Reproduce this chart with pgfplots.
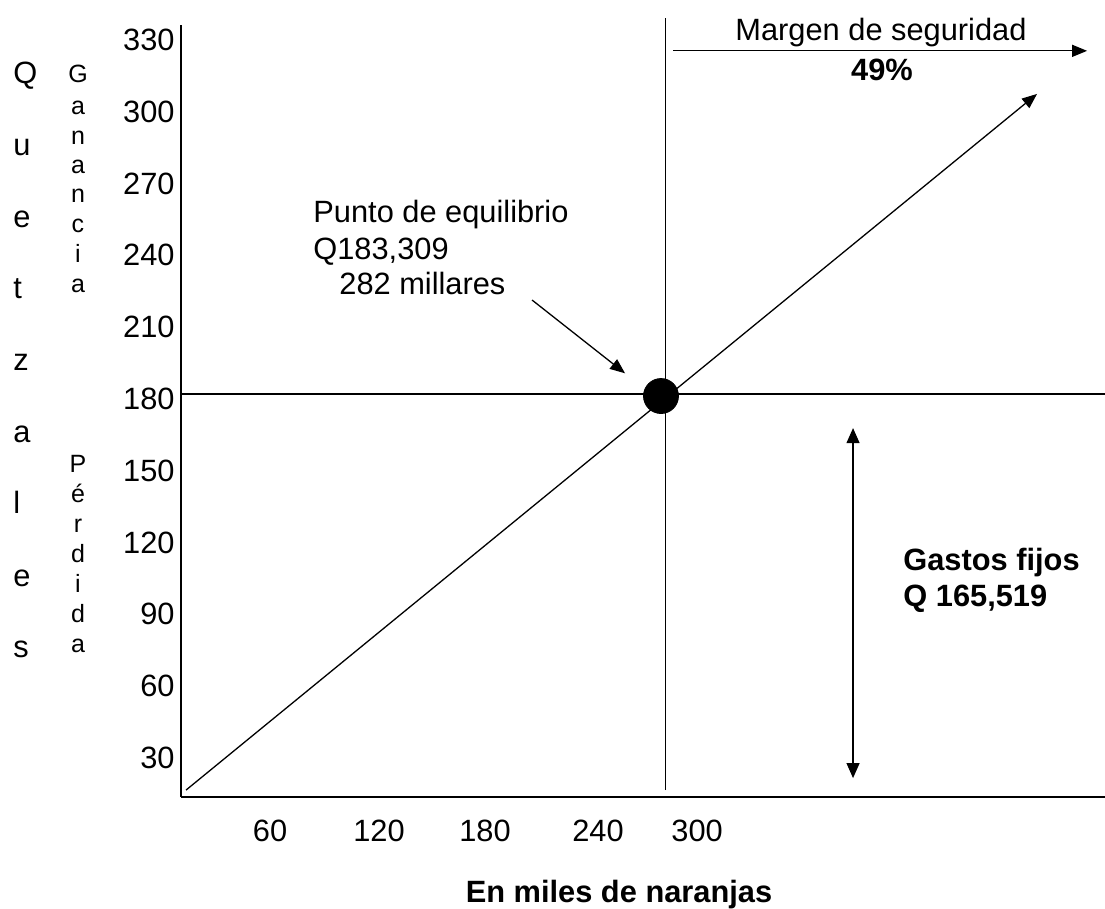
\documentclass[border=0pt]{standalone}
\usepackage{fontspec}
\setmainfont{Liberation Sans}
\usepackage{pgfplots}
\pgfplotsset{compat=1.18}
\usetikzlibrary{arrows.meta}

% letter sizes (1px = 0.5pt)
\newcommand{\fbig}{\fontsize{15.4}{18}\selectfont}
\newcommand{\fsmall}{\fontsize{12.5}{14}\selectfont}

\tikzset{
  thin line/.style={black, line width=0.65pt},
  tri/.style={-{Triangle[length=7.5pt,width=6pt]}},
}

\begin{document}
\begin{tikzpicture}
  \begin{axis}[
    scale only axis,
    width=462.15pt,
    height=386pt,
    xmin=9.5, xmax=526.4,
    ymin=13.7, ymax=336.2,
    axis x line=bottom,
    axis y line=left,
    axis line style={-, line width=1pt},
    major tick length=0pt,
    xtick={59.5,120.4,179.7,242.9,298.3},
    xticklabels={60,120,180,240,300},
    ytick={30,60,...,330},
    /pgf/number format/assume math mode=true,
    tick label style={font=\fbig, inner sep=0pt},
    xticklabel style={anchor=north, yshift=-11.5pt},
    yticklabel style={anchor=east, xshift=-2.85pt},
    clip=false,
  ]
    % horizontal and vertical lines through the break-even point
    \addplot[thin line] coordinates {(9.5,182) (526.4,182)};
    \addplot[thin line] coordinates {(280.8,16.6) (280.8,339.1)};
    % income line
    \addplot[thin line, tri] coordinates {(12.5,16.6) (488.4,307.4)};
    % margen de seguridad
    \addplot[thin line, tri] coordinates {(284.9,325.4) (516.4,325.4)};
    % pointer to the point
    \addplot[thin line, tri] coordinates {(206.0,221.3) (258.0,190.7)};
    % gastos fijos
    \addplot[thin line, {Triangle[length=7.5pt,width=6.5pt]}-{Triangle[length=7.5pt,width=6.5pt]}]
      coordinates {(385.5,21.6) (385.5,167.8)};
    % punto de equilibrio
    \addplot[only marks, mark=*, mark size=8.75pt, black] coordinates {(278.1,181.2)};
  \end{axis}

  % labels, placed in pixels of the reference
  \begin{scope}[shift={(current axis.south west)}, shift={(-90.35pt,398.5pt)}, x=0.5pt, y=-0.5pt,
                every node/.style={inner sep=0pt}]
    \node[anchor=base, font=\fbig] at (881,41) {Margen de seguridad};
    \node[anchor=base, font=\fbig\bfseries] at (882,81) {49\%};

    \node[anchor=base west, font=\fbig] at (313,223) {Punto de equilibrio};
    \node[anchor=base west, font=\fbig] at (313,260) {Q183,309};
    \node[anchor=base west, font=\fbig] at (339,295) {282 millares};

    \node[anchor=base west, font=\fbig\bfseries] at (903,571) {Gastos fijos};
    \node[anchor=base west, font=\fbig\bfseries] at (903,607) {Q 165,519};

    \node[anchor=base, font=\fbig\bfseries] at (619,903) {En miles de naranjas};

    % Quetzales
    \node[anchor=base west, font=\fbig] at (13,84) {Q};
    \node[anchor=base west, font=\fbig] at (13,156) {u};
    \node[anchor=base west, font=\fbig] at (13,228) {e};
    \node[anchor=base west, font=\fbig] at (13,299) {t};
    \node[anchor=base west, font=\fbig] at (13,371) {z};
    \node[anchor=base west, font=\fbig] at (13,443) {a};
    \node[anchor=base west, font=\fbig] at (13,514) {l};
    \node[anchor=base west, font=\fbig] at (13,587) {e};
    \node[anchor=base west, font=\fbig] at (13,658) {s};

    % Ganancia
    \node[anchor=base, font=\fsmall] at (78,83) {G};
    \node[anchor=base, font=\fsmall] at (78,115) {a};
    \node[anchor=base, font=\fsmall] at (78,145) {n};
    \node[anchor=base, font=\fsmall] at (78,174) {a};
    \node[anchor=base, font=\fsmall] at (78,203) {n};
    \node[anchor=base, font=\fsmall] at (78,233) {c};
    \node[anchor=base, font=\fsmall] at (78,263) {i};
    \node[anchor=base, font=\fsmall] at (78,293) {a};

    % Pérdida
    \node[anchor=base, font=\fsmall] at (78,473) {P};
    \node[anchor=base, font=\fsmall] at (78,503) {é};
    \node[anchor=base, font=\fsmall] at (78,533) {r};
    \node[anchor=base, font=\fsmall] at (78,563) {d};
    \node[anchor=base, font=\fsmall] at (78,593) {i};
    \node[anchor=base, font=\fsmall] at (78,623) {d};
    \node[anchor=base, font=\fsmall] at (78,653) {a};

    \pgfresetboundingbox
    \path[use as bounding box] (0,0) rectangle (1105,909);
  \end{scope}
\end{tikzpicture}
\end{document}
